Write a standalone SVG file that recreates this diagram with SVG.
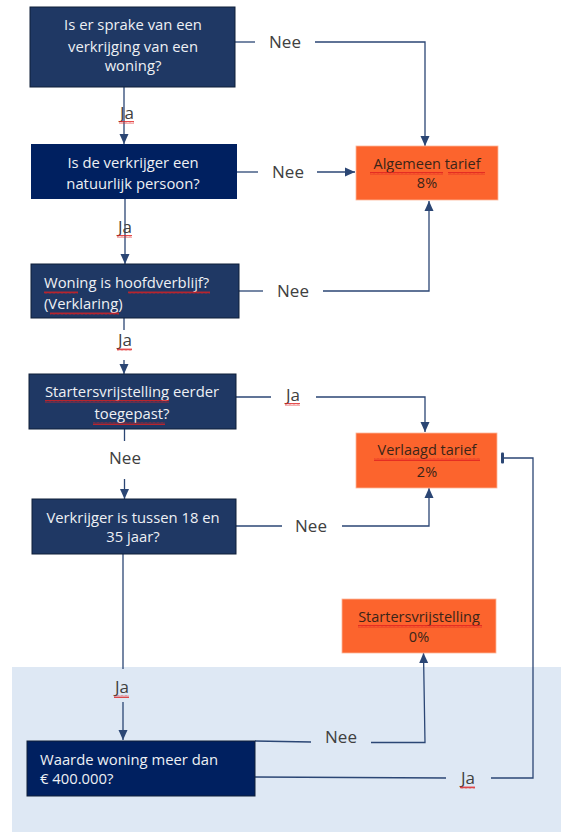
<svg xmlns="http://www.w3.org/2000/svg" width="561" height="832" viewBox="0 0 561 832">
<defs>
<marker id="arr" markerUnits="userSpaceOnUse" markerWidth="10" markerHeight="10" refX="10" refY="5" orient="auto">
<path d="M0,0.5 L10,5 L0,9.5 z" fill="#2B4674"/>
</marker>
<marker id="bar" markerUnits="userSpaceOnUse" markerWidth="4" markerHeight="12" refX="2" refY="6" orient="auto">
<rect x="0" y="0.5" width="3" height="11" rx="1" fill="#2B4674"/>
</marker>
<pattern id="sq" width="4" height="3" patternUnits="userSpaceOnUse">
<path d="M0,2.5 L1,0.5 L2,2.5 L3,0.5 L4,2.5" fill="none" stroke="#E02020" stroke-width="0.8"/>
</pattern>
<style>
.q { stroke: #0F1E38; stroke-width: 1; }
.qa { fill: #1F3864; }
.qb { fill: #002060; }
.o { fill: #FC642D; stroke: #FDB69A; stroke-width: 0.8; }
.t { font-family: "Open Sans", "Noto Sans", sans-serif; font-size: 14.8px; fill: #EEF0F4; }
.tc { text-anchor: middle; }
.ot { font-family: "Open Sans", "Noto Sans", sans-serif; font-size: 14.5px; fill: #3A2418; text-anchor: middle; }
.lb { font-family: "Open Sans", "Noto Sans", sans-serif; font-size: 17px; fill: #404040; text-anchor: middle; }
.c { fill: none; stroke: #2B4674; stroke-width: 1.3; }
.w { fill: url(#sq); }
</style>
</defs>
<rect x="0" y="0" width="561" height="832" fill="#FFFFFF"/>
<rect x="12" y="667" width="549" height="165" fill="#DEE8F4"/>

<g id="connectors">
<path class="c" d="M235,42 H255"/>
<path class="c" d="M315,42 H425 V146" marker-end="url(#arr)"/>
<path class="c" d="M124,87 V144" marker-end="url(#arr)"/>
<path class="c" d="M237,172 H258"/>
<path class="c" d="M317,172 H355" marker-end="url(#arr)"/>
<path class="c" d="M125,199 V264" marker-end="url(#arr)"/>
<path class="c" d="M239,291 H263"/>
<path class="c" d="M323,291 H429 V201" marker-end="url(#arr)"/>
<path class="c" d="M124,318 V330"/>
<path class="c" d="M124,360 V374" marker-end="url(#arr)"/>
<path class="c" d="M236,397 H271"/>
<path class="c" d="M316,397 H425 V432" marker-end="url(#arr)"/>
<path class="c" d="M124.5,429 V441"/>
<path class="c" d="M124.5,479 V499" marker-end="url(#arr)"/>
<path class="c" d="M236,526 H282"/>
<path class="c" d="M342,526 H429 V488" marker-end="url(#arr)"/>
<path class="c" d="M123,554 V669"/>
<path class="c" d="M123,702 V740" marker-end="url(#arr)"/>
<path class="c" d="M255,741 L311,742"/>
<path class="c" d="M371,742.5 H425 L423.5,653" marker-end="url(#arr)"/>
<path class="c" d="M255,777 L446,778"/>
<path class="c" d="M491,778 H533 V458 H502" marker-end="url(#bar)"/>
<g id="labels">
<text class="lb" x="285" y="48">Nee</text>
<text class="lb" x="288" y="178">Nee</text>
<text class="lb" x="293" y="297">Nee</text>
<text class="lb" x="125" y="464">Nee</text>
<text class="lb" x="311" y="532">Nee</text>
<text class="lb" x="341" y="743">Nee</text>
<text class="lb" x="127" y="119">Ja</text>
<rect class="w" x="119" y="121" width="15" height="3"/>
<text class="lb" x="125" y="233">Ja</text>
<rect class="w" x="117" y="235" width="15" height="3"/>
<text class="lb" x="125" y="346">Ja</text>
<rect class="w" x="117" y="348" width="15" height="3"/>
<text class="lb" x="293" y="401">Ja</text>
<rect class="w" x="285" y="403" width="15" height="3"/>
<text class="lb" x="122" y="693">Ja</text>
<rect class="w" x="114" y="695" width="15" height="3"/>
<text class="lb" x="468" y="784">Ja</text>
<rect class="w" x="460" y="786" width="15" height="3"/>
</g>
</g>

<g id="n1">
<rect class="q qa" x="30" y="7" width="205" height="80"/>
<text class="t tc" x="133" y="30">Is er sprake van een</text>
<text class="t tc" x="133" y="52">verkrijging van een</text>
<text class="t tc" x="133" y="71">woning?</text>
</g>
<g id="n2">
<rect class="qb" x="31" y="144" width="206" height="55"/>
<text class="t tc" x="133" y="168">Is de verkrijger een</text>
<text class="t tc" x="133" y="189">natuurlijk persoon?</text>
</g>
<g id="n3">
<rect class="q qa" x="31" y="264" width="208" height="54"/>
<text class="t" x="44" y="288">Woning is hoofdverblijf?</text>
<text class="t" x="44" y="309">(Verklaring)</text>
<rect class="w" x="44" y="291" width="34" height="3"/>
<rect class="w" x="128" y="291" width="82" height="3"/>
<rect class="w" x="50" y="312" width="69" height="3"/>
</g>
<g id="n4">
<rect class="q qa" x="29" y="374" width="207" height="55"/>
<text class="t tc" x="132" y="397">Startersvrijstelling eerder</text>
<text class="t tc" x="132" y="419">toegepast?</text>
<rect class="w" x="45" y="400" width="124" height="3"/>
<rect class="w" x="93" y="422" width="72" height="3"/>
</g>
<g id="n5">
<rect class="q qa" x="32" y="499" width="204" height="55"/>
<text class="t tc" x="133" y="523">Verkrijger is tussen 18 en</text>
<text class="t tc" x="133" y="542">35 jaar?</text>
</g>
<g id="n6">
<rect class="q qb" x="27" y="741" width="228" height="55"/>
<text class="t" x="40" y="765">Waarde woning meer dan</text>
<text class="t" x="40" y="784">€ 400.000?</text>
</g>
<g id="r1">
<rect class="o" x="356" y="146" width="142" height="54"/>
<text class="ot" x="427" y="169">Algemeen tarief</text>
<text class="ot" x="427" y="188">8%</text>
<rect class="w" x="370" y="172" width="73" height="3"/>
<rect class="w" x="448" y="172" width="37" height="3"/>
</g>
<g id="r2">
<rect class="o" x="356" y="433" width="141" height="55"/>
<text class="ot" x="427" y="455">Verlaagd tarief</text>
<text class="ot" x="427" y="477">2%</text>
<rect class="w" x="374" y="458" width="106" height="3"/>
</g>
<g id="r3">
<rect class="o" x="342" y="599" width="154" height="54"/>
<text class="ot" x="419" y="622">Startersvrijstelling</text>
<text class="ot" x="419" y="642">0%</text>
<rect class="w" x="358" y="625" width="124" height="3"/>
</g>
</svg>
